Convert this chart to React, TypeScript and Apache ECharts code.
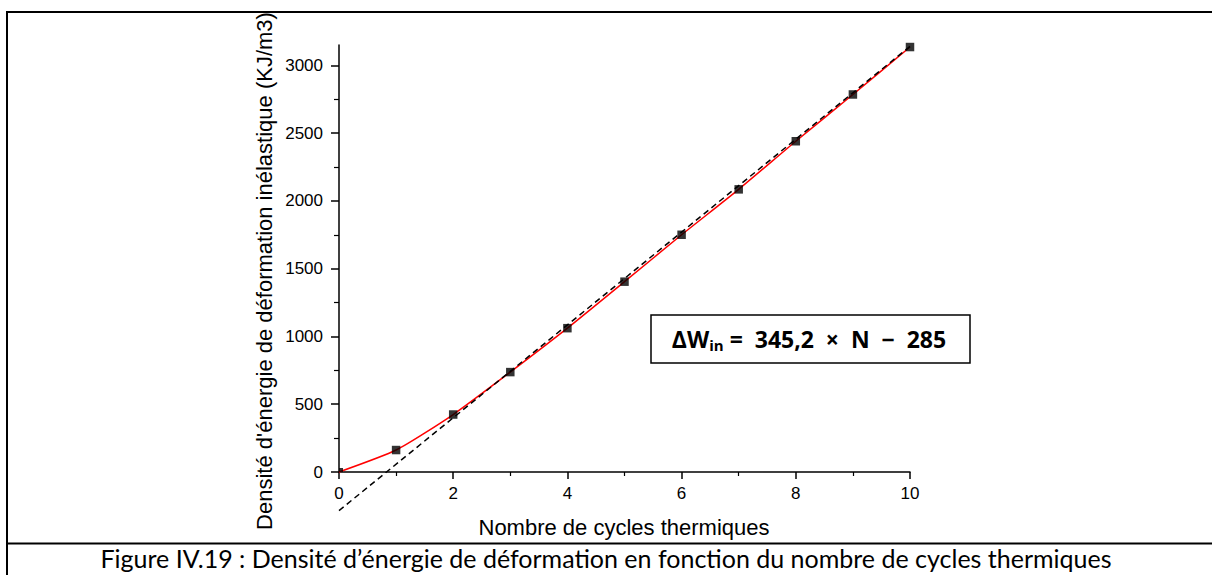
import React, { useEffect, useRef } from "react";
import * as echarts from "echarts";

const cycles = [0, 1, 2, 3, 4, 5, 6, 7, 8, 9, 10];
const energy = [0, 162, 424, 737, 1061, 1404, 1750, 2085, 2440, 2785, 3135];
const fitCycles = [0, 10];
const fitEnergy = [-285, 3140];
const yTicks = [0, 500, 1000, 1500, 2000, 2500, 3000];
const yMinorTicks = [250, 750, 1250, 1750, 2250, 2750];
const xAxisTitle = "Nombre de cycles thermiques";
const yAxisTitle = "Densité d'énergie de déformation inélastique (KJ/m3)";
const caption =
  "Figure IV.19 : Densité d’énergie de déformation en fonction du nombre de cycles thermiques";
const eqMain = "ΔW";
const eqSub = "in";
const eqRest = " =  345,2  ×  N  −  285";

const AXIS_FONT = "'Liberation Sans', Arial, sans-serif";

export default function App() {
  const ref = useRef<HTMLDivElement>(null);
  useEffect(() => {
    if (!ref.current) return;
    const chart = echarts.init(ref.current, null, { renderer: "svg" });
    const axisLine = { show: true, onZero: false, lineStyle: { color: "#000", width: 1.5 } };
    const option: any = {
      animation: false,
      backgroundColor: "#fff",
      grid: { left: 339, right: 302, top: 45, bottom: 103, containLabel: false },
      xAxis: {
        type: "value",
        min: 0,
        max: 10,
        interval: 2,
        axisLine,
        axisTick: { show: true, length: 7, lineStyle: { color: "#000", width: 1.5 } },
        minorTick: { show: true, splitNumber: 2, length: 4, lineStyle: { color: "#000", width: 1.2 } },
        axisLabel: { color: "#000", fontSize: 17, fontFamily: AXIS_FONT, margin: 13 },
        splitLine: { show: false },
        minorSplitLine: { show: false },
      },
      yAxis: [
        {
          type: "value",
          position: "left",
          min: 0,
          max: 3150,
          axisLine,
          axisTick: {
            show: true,
            length: 8,
            customValues: yTicks,
            lineStyle: { color: "#000", width: 1.5 },
          },
          axisLabel: {
            color: "#000",
            fontSize: 17,
            fontFamily: AXIS_FONT,
            margin: 16,
            customValues: yTicks,
            formatter: (v: number) => String(v),
          },
          splitLine: { show: false },
        },
        {
          type: "value",
          position: "left",
          min: 0,
          max: 3150,
          axisLine: { show: false },
          axisTick: {
            show: true,
            length: 5,
            customValues: yMinorTicks,
            lineStyle: { color: "#000", width: 1.2 },
          },
          axisLabel: { show: false },
          splitLine: { show: false },
        },
      ],
      series: [
        {
          type: "line",
          data: cycles.map((c, i) => [c, energy[i]]),
          showSymbol: false,
          smooth: 0.2,
          lineStyle: { color: "#ff0000", width: 1.5 },
          z: 2,
          clip: false,
        },
        {
          type: "line",
          data: fitCycles.map((c, i) => [c, fitEnergy[i]]),
          showSymbol: false,
          lineStyle: { color: "#000", width: 1.5, type: [6, 4] },
          z: 3,
          clip: false,
        },
        {
          type: "scatter",
          data: cycles.map((c, i) =>
            i === 0
              ? { value: [c, energy[i]], symbolSize: 4, symbolOffset: [2, -2] }
              : { value: [c, energy[i]] }
          ),
          symbol: "rect",
          symbolSize: 8.5,
          itemStyle: { color: "#000" },
          z: 4,
          clip: false,
        },
      ],
      graphic: [
        {
          type: "line",
          shape: { x1: 7, y1: 12, x2: 1212, y2: 12 },
          style: { stroke: "#000", lineWidth: 2 },
        },
        {
          type: "line",
          shape: { x1: 7, y1: 11, x2: 7, y2: 575 },
          style: { stroke: "#000", lineWidth: 2 },
        },
        {
          type: "line",
          shape: { x1: 7, y1: 543.5, x2: 1212, y2: 543.5 },
          style: { stroke: "#000", lineWidth: 2 },
        },
        {
          type: "text",
          x: 264,
          y: 271,
          rotation: Math.PI / 2,
          style: {
            text: yAxisTitle,
            fontSize: 22,
            fontFamily: AXIS_FONT,
            fill: "#000",
            align: "center",
            verticalAlign: "middle",
          },
        },
        {
          type: "text",
          x: 624,
          y: 527,
          style: {
            text: xAxisTitle,
            fontSize: 22,
            fontFamily: AXIS_FONT,
            fill: "#000",
            align: "center",
            verticalAlign: "middle",
          },
        },
        {
          type: "rect",
          shape: { x: 651, y: 315, width: 319, height: 48 },
          style: { fill: "#fff", stroke: "#000", lineWidth: 1.5 },
          z: 10,
        },
        {
          type: "text",
          x: 809,
          y: 339,
          z: 11,
          style: {
            text: `{a|${eqMain}}{s|${eqSub}}{a|${eqRest}}`,
            align: "center",
            verticalAlign: "middle",
            rich: {
              a: { fontSize: 23, fontWeight: "bold", fontFamily: "'Open Sans', sans-serif", fill: "#000" },
              s: {
                fontSize: 15,
                fontWeight: "bold",
                fontFamily: "'Open Sans', sans-serif",
                fill: "#000",
                padding: [12, 0, 0, 0],
              },
            },
          },
        },
        {
          type: "text",
          x: 606,
          y: 558,
          style: {
            text: caption,
            fontSize: 25,
            fontFamily: "Lato, 'Open Sans', sans-serif",
            fill: "#000",
            align: "center",
            verticalAlign: "middle",
          },
        },
      ],
    };
    chart.setOption(option);
    return () => chart.dispose();
  }, []);
  return (
    <div
      ref={ref}
      style={{ position: "absolute", left: 0, top: 0, width: 1212, height: 575 }}
    />
  );
}
